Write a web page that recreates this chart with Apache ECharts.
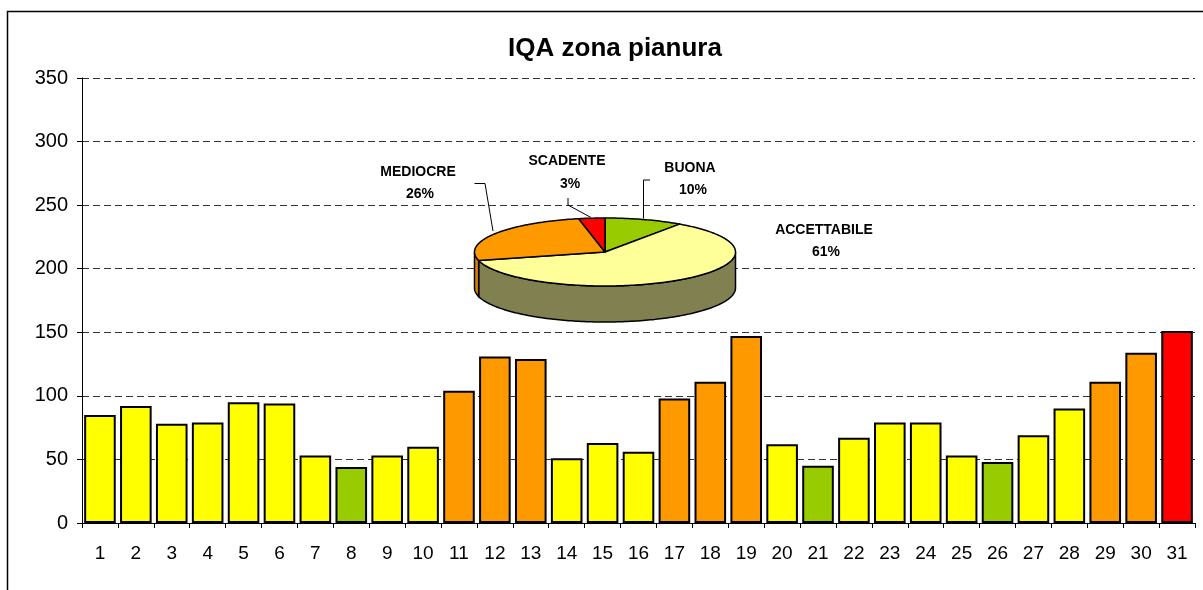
<!DOCTYPE html>
<html>
<head>
<meta charset="utf-8">
<script src="https://cdn.jsdelivr.net/npm/echarts@6/dist/echarts.min.js"></script>
<style>
html,body{margin:0;padding:0;background:#fff;}
#chart{width:1203px;height:590px;}
</style>
</head>
<body>
<div id="chart"></div>
<script>
// ---- data ----
const days = ['1','2','3','4','5','6','7','8','9','10','11','12','13','14','15','16','17','18','19','20','21','22','23','24','25','26','27','28','29','30','31'];
const iqaValues = [85,92,78,79,95,94,53,44,53,60,104,131,129,51,63,56,98,111,147,62,45,67,79,79,53,48,69,90,111,134,151];
const iqaClass = ['A','A','A','A','A','A','A','B','A','A','M','M','M','A','A','A','M','M','M','A','B','A','A','A','A','B','A','A','M','M','S'];
const pieNames = ['BUONA','ACCETTABILE','MEDIOCRE','SCADENTE'];
const pieCounts = [3,19,8,1];
const yTicks = [0,50,100,150,200,250,300,350];

// ---- styles ----
const classColor = {B:'#99CC00', A:'#FFFF00', M:'#FF9900', S:'#FF0000'};
const pieTopColor = ['#99CC00','#FFFF99','#FF9900','#FF0000'];
const pieSideColor = ['#6B8E00','#808050','#D98200','#B00000'];
const FONT = "'Liberation Sans', Arial, sans-serif";
const pieGeo = {cx:605, cy:252, rx:130.5, ry:34, depth:36};
const pieLabelLayout = [
  {x:690, y:168, px:693, py:190, line:[[650,180],[643.5,180],[643.5,218.5]]},
  {x:824, y:230, px:826, py:252, line:null},
  {x:418, y:172, px:420, py:194, line:[[474.5,183.5],[485,183.5],[493,231]]},
  {x:567, y:161, px:570, py:184, line:[[568,198],[568,205],[591,217.5]]}
];

const total = pieCounts.reduce((a,b)=>a+b,0);
const cum = [];
(function(){let s=0; for(const v of pieCounts){cum.push(s); s+=v;}})();
function ang(frac){return frac*2*Math.PI;}
function pt(t, dy){return [pieGeo.cx + pieGeo.rx*Math.sin(t), pieGeo.cy - pieGeo.ry*Math.cos(t) + (dy||0)];}
function arcPts(a,b,dy){const n=Math.max(2,Math.ceil(Math.abs(b-a)/0.02)); const p=[]; for(let i=0;i<=n;i++){p.push(pt(a+(b-a)*i/n,dy));} return p;}

const chart = echarts.init(document.getElementById('chart'), null, {renderer:'canvas'});
chart.setOption({
  animation:false,
  backgroundColor:'#fff',
  title:{text:'IQA zona pianura', left:610, top:31, textAlign:'center',
    textStyle:{fontFamily:FONT, fontSize:26, fontWeight:'bold', color:'#000'}},
  graphic:[{type:'rect', silent:true, z:-1, shape:{x:7.5,y:11.5,width:1300,height:700},
    style:{fill:'none', stroke:'#000', lineWidth:1.5}}],
  grid:{left:82, right:8, top:78, bottom:67, containLabel:false},
  xAxis:{type:'category', data:days, boundaryGap:true,
    axisLine:{lineStyle:{color:'#000', width:1}},
    axisTick:{show:true, interval:0, length:5, lineStyle:{color:'#000'}},
    axisLabel:{interval:0, margin:21, color:'#000', fontFamily:FONT, fontSize:19}},
  yAxis:{type:'value', min:yTicks[0], max:yTicks[yTicks.length-1], interval:yTicks[1]-yTicks[0],
    axisLine:{show:true, lineStyle:{color:'#000', width:1}},
    axisTick:{show:true, length:5, lineStyle:{color:'#000'}},
    axisLabel:{margin:14, color:'#000', fontFamily:FONT, fontSize:20},
    splitLine:{show:true, lineStyle:{color:'#333', type:[7,4], width:1}}},
  series:[
    {type:'bar', barCategoryGap:'12%',
     data:iqaValues.map((v,i)=>({value:v, itemStyle:{color:classColor[iqaClass[i]]}})),
     itemStyle:{borderColor:'#000', borderWidth:2}, z:3},
    {type:'custom', coordinateSystem:'none', z:10, silent:true,
     data:pieCounts,
     renderItem:function(params, api){
       const i=params.dataIndex;
       let a=ang(cum[i]/total), b=ang((cum[i]+pieCounts[i])/total);
       const s=Math.max(a,Math.PI/2), e=Math.min(b,3*Math.PI/2);
       if(e<=s) return {type:'group', children:[]};
       const top=arcPts(s,e,0), bot=arcPts(s,e,pieGeo.depth).reverse();
       return {type:'polygon', shape:{points:top.concat(bot)},
         style:{fill:pieSideColor[i], stroke:'#000', lineWidth:1.5}};
     }},
    {type:'custom', coordinateSystem:'none', z:11, silent:true,
     data:pieCounts,
     renderItem:function(params, api){
       const i=params.dataIndex;
       const v=api.value(0);
       const a=ang(cum[i]/total), b=ang((cum[i]+v)/total);
       const pts=[[pieGeo.cx,pieGeo.cy]].concat(arcPts(a,b,0));
       const L=pieLabelLayout[i];
       const pct=Math.round(v/total*100)+'%';
       const children=[
         {type:'polygon', shape:{points:pts}, style:{fill:pieTopColor[i], stroke:'#000', lineWidth:1.5, lineJoin:'round'}},
         {type:'text', x:L.x, y:L.y, style:{text:pieNames[i], fill:'#000', font:"bold 14px "+FONT, align:'center', verticalAlign:'middle'}},
         {type:'text', x:L.px, y:L.py, style:{text:pct, fill:'#000', font:"bold 14px "+FONT, align:'center', verticalAlign:'middle'}}
       ];
       if(L.line){children.push({type:'polyline', shape:{points:L.line}, style:{stroke:'#000', lineWidth:1, fill:'none'}});}
       return {type:'group', children:children};
     }}
  ]
});
</script>
</body>
</html>
